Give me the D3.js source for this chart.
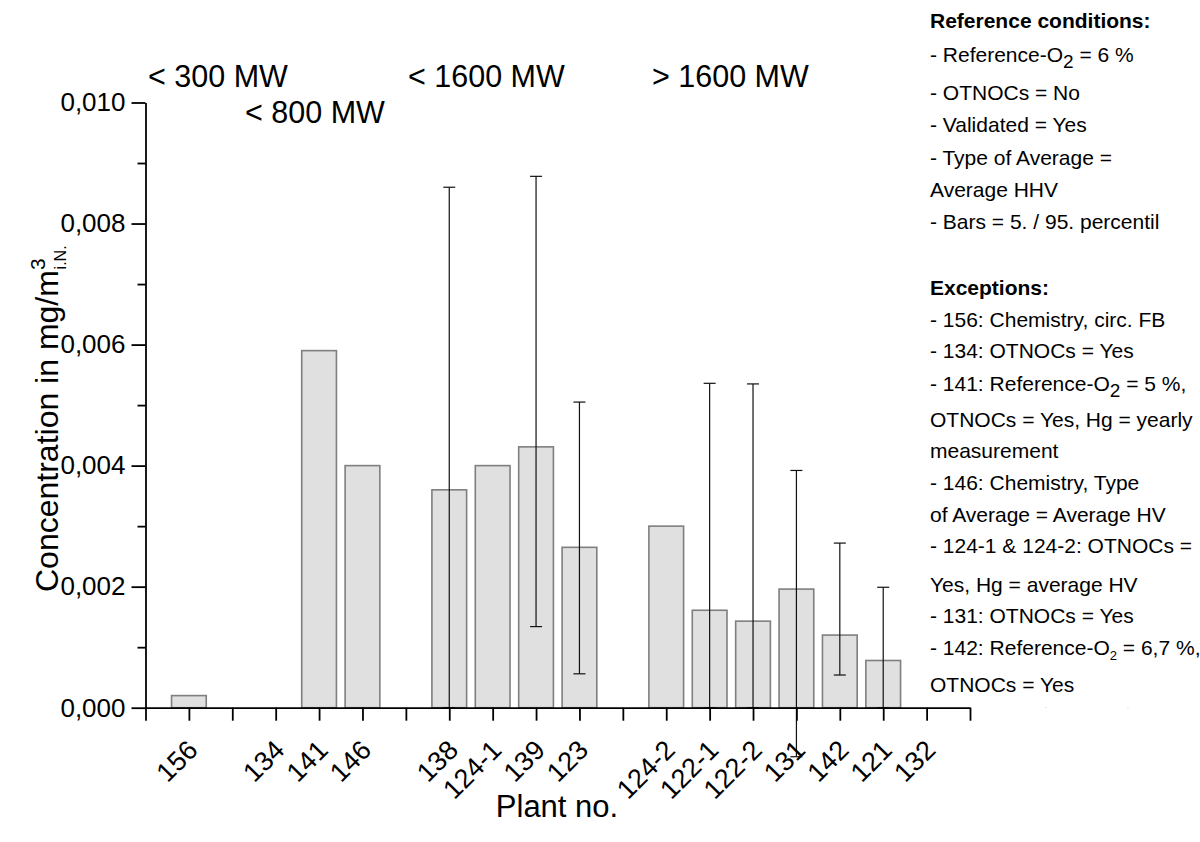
<!DOCTYPE html>
<html>
<head>
<meta charset="utf-8">
<script src="https://cdn.jsdelivr.net/npm/d3@7/dist/d3.min.js"></script>
<style>
  html, body { margin: 0; padding: 0; background: #fff; }
  svg { display: block; font-family: "Liberation Sans", Arial, sans-serif; }
</style>
</head>
<body>
<svg id="chart" width="1200" height="842"></svg>
<script>
// Plant numbers along the x axis; empty strings are gaps between size classes
const plantLabels = ["", "156", "", "134", "141", "146", "", "138", "124-1", "139", "123", "",
                     "124-2", "122-1", "122-2", "131", "142", "121", "132", ""];
// Mean Hg concentration per plant (mg/m³ i.N.), null = no value
const meanValues = [null, 0.0002, null, null, 0.0059, 0.0040, null, 0.0036, 0.0040, 0.00431, 0.00265, null,
                    0.0030, 0.00161, 0.00143, 0.00196, 0.0012, 0.00078, null, null];
// 95th percentile
const p95Values = [null, null, null, null, null, null, null, 0.0086, null, 0.00878, 0.00505, null,
                   null, 0.00536, 0.00535, 0.00392, 0.00272, 0.00199, null, null];
// 5th percentile
const p5Values = [null, null, null, null, null, null, null, 0.0, null, 0.00134, 0.00056, null,
                  null, 0.0, 0.0, -0.00081, 0.00054, 0.0, null, null];

const yMajorTicks = [0, 0.002, 0.004, 0.006, 0.008, 0.010];
const yMinorTicks = [0.001, 0.003, 0.005, 0.007, 0.009];

const sizeClasses = ["< 300 MW", "< 800 MW", "< 1600 MW", "> 1600 MW"];

const refConditions = [
  {t: "- Reference-O", sub: "2", after: " = 6 %"},
  {t: "- OTNOCs = No"},
  {t: "- Validated = Yes"},
  {t: "- Type of Average ="},
  {t: "Average HHV"},
  {t: "- Bars = 5. / 95. percentil"}
];
const exceptions = [
  {t: "- 156: Chemistry, circ. FB"},
  {t: "- 134: OTNOCs = Yes"},
  {t: "- 141: Reference-O", sub: "2", after: " = 5 %,"},
  {t: "OTNOCs = Yes, Hg = yearly"},
  {t: "measurement"},
  {t: "- 146: Chemistry, Type"},
  {t: "of Average = Average HV"},
  {t: "- 124-1 & 124-2: OTNOCs ="},
  {t: "Yes, Hg = average HV"},
  {t: "- 131: OTNOCs = Yes"},
  {t: "- 142: Reference-O", sub: "2", after: " = 6,7 %,", small: true},
  {t: "OTNOCs = Yes"}
];

const svg = d3.select("#chart");
const FONT = "'Liberation Sans', Arial, sans-serif";

const x = d3.scaleLinear().domain([0, plantLabels.length - 1]).range([145.5, 970]);
const y = d3.scaleLinear().domain([0, 0.010]).range([707.7, 102.5]);
const step = x(1) - x(0);
const barW = step * 0.8;

const idx = d3.range(plantLabels.length);

// bars
svg.append("g")
  .selectAll("rect")
  .data(idx.filter(i => meanValues[i] != null))
  .join("rect")
  .attr("x", i => x(i) - barW / 2)
  .attr("y", i => y(meanValues[i]))
  .attr("width", barW)
  .attr("height", i => y(0) - y(meanValues[i]))
  .attr("fill", "#e0e0e0")
  .attr("stroke", "#7f7f7f")
  .attr("stroke-width", 1.6);

// percentile whiskers
const eb = svg.append("g").attr("stroke", "#111").attr("stroke-width", 1.2).attr("fill", "none");
const ebIdx = idx.filter(i => p95Values[i] != null);
const capW = 12;
eb.selectAll("line.stem").data(ebIdx).join("line").attr("class", "stem")
  .attr("x1", i => x(i)).attr("x2", i => x(i))
  .attr("y1", i => y(p95Values[i])).attr("y2", i => y(p5Values[i]));
eb.selectAll("line.top").data(ebIdx).join("line").attr("class", "top")
  .attr("x1", i => x(i) - capW / 2).attr("x2", i => x(i) + capW / 2)
  .attr("y1", i => y(p95Values[i])).attr("y2", i => y(p95Values[i]));
eb.selectAll("line.bot").data(ebIdx).join("line").attr("class", "bot")
  .attr("x1", i => x(i) - capW / 2).attr("x2", i => x(i) + capW / 2)
  .attr("y1", i => y(p5Values[i])).attr("y2", i => y(p5Values[i]));

// y axis
const fmt = d => d3.format(".3f")(d).replace(".", ",");
const yAxis = svg.append("g")
  .attr("transform", `translate(${x(0)},0)`)
  .call(d3.axisLeft(y).tickValues(yMajorTicks).tickSize(14).tickSizeOuter(0).tickFormat(fmt));
svg.append("g")
  .attr("transform", `translate(${x(0)},0)`)
  .call(d3.axisLeft(y).tickValues(yMinorTicks).tickSize(8).tickSizeOuter(0).tickFormat(""))
  .select(".domain").remove();
yAxis.selectAll("text").attr("font-size", 26).attr("fill", "#000").attr("x", -20)
  .attr("font-family", FONT);

// x axis
const xAxis = svg.append("g")
  .attr("transform", `translate(0,${y(0)})`)
  .call(d3.axisBottom(x).tickValues(idx).tickSize(13).tickSizeOuter(0).tickFormat(i => plantLabels[i]));
xAxis.selectAll("text")
  .attr("font-size", 27).attr("fill", "#000")
  .attr("font-family", FONT)
  .attr("text-anchor", "end")
  .attr("dy", 0)
  .attr("y", 0)
  .attr("transform", "translate(10,44) rotate(-45)");

svg.selectAll(".domain, .tick line").attr("stroke", "#000").attr("stroke-width", 1.8);

// axis titles
svg.append("text")
  .attr("x", 557).attr("y", 817)
  .attr("text-anchor", "middle")
  .attr("font-size", 31)
  .text("Plant no.");

const yt = svg.append("text")
  .attr("transform", "translate(58,592) rotate(-90)")
  .attr("font-size", 32);
yt.append("tspan").text("Concentration in mg/m");
yt.append("tspan").attr("dy", -13).attr("font-size", 21).text("3");
yt.append("tspan").attr("dy", 21).attr("dx", -11).attr("font-size", 16).text("i.N.");

// size-class headings
const classPos = [[148, 87], [245, 123], [408, 87], [652, 87]];
svg.append("g").selectAll("text").data(sizeClasses).join("text")
  .attr("x", (d, i) => classPos[i][0]).attr("y", (d, i) => classPos[i][1])
  .attr("font-size", 30.5)
  .text(d => d);

// notes block on the right
const notes = svg.append("g").attr("font-size", 21);
function noteLine(item, yPos) {
  const t = notes.append("text").attr("x", 930).attr("y", yPos);
  t.append("tspan").text(item.t);
  if (item.sub) {
    t.append("tspan").attr("dy", item.small ? 5 : 6).attr("font-size", item.small ? 13 : 19).text(item.sub);
    t.append("tspan").attr("dy", item.small ? -5 : -6).text(item.after);
  }
}
notes.append("text").attr("x", 930).attr("y", 28.3).attr("font-weight", "bold").text("Reference conditions:");
const refY = [61.7, 100, 131.7, 165, 196.7, 229.3];
refConditions.forEach((r, i) => noteLine(r, refY[i]));
notes.append("text").attr("x", 930).attr("y", 295).attr("font-weight", "bold").text("Exceptions:");
const excY = [326.7, 358.3, 390.7, 426.7, 458.3, 490, 521.7, 553.3, 591.7, 623.3, 655, 691.7];
exceptions.forEach((r, i) => noteLine(r, excY[i]));
notes.append("text").attr("x", 1045).attr("y", 708).attr("font-size", 6).attr("fill", "#888").text(".");
notes.append("text").attr("x", 1127).attr("y", 708).attr("font-size", 6).attr("fill", "#888").text(".");
</script>
</body>
</html>
